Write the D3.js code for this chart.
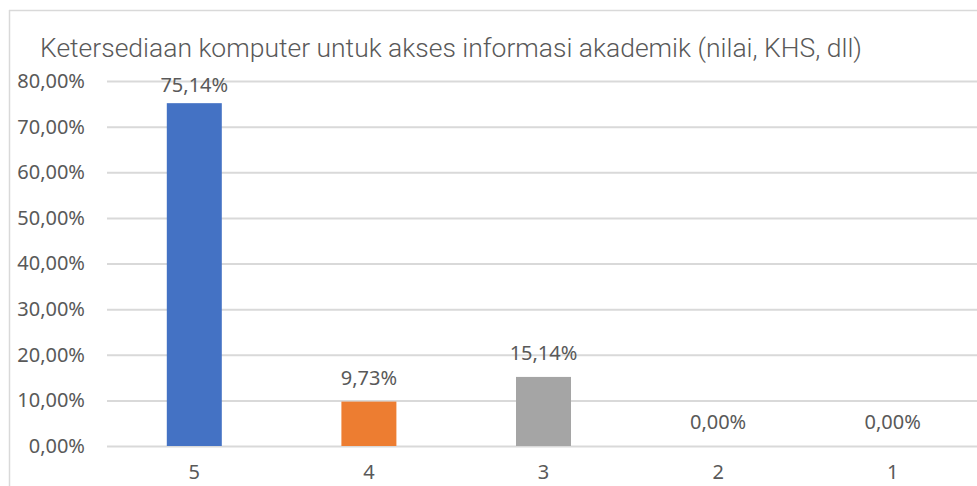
<!DOCTYPE html>
<html>
<head>
<meta charset="utf-8">
<script src="https://cdn.jsdelivr.net/npm/d3@7"></script>
<style>
  html, body { margin: 0; padding: 0; background: #fff; overflow: hidden; }
  svg { display: block; }
</style>
</head>
<body>
<svg id="chart"></svg>
<script>
let title = "Ketersediaan komputer untuk akses informasi akademik (nilai, KHS, dll)";
let categories = ["5", "4", "3", "2", "1"];
let values = [75.14, 9.73, 15.14, 0, 0];
let colors = ["#4472C4", "#ED7D31", "#A5A5A5", "#FFC000", "#5B9BD5"];
let yTicks = [0, 10, 20, 30, 40, 50, 60, 70, 80];

let width = 977;
let height = 486;

let svg = d3.select("#chart")
    .attr("width", width)
    .attr("height", height);

let fmt = (v) => v.toFixed(2).replace(".", ",") + "%";

// chart frame (the picture is a crop, so only left and top edges show)
svg.append("line")
    .attr("x1", 9.5).attr("x2", 9.5)
    .attr("y1", 10).attr("y2", height)
    .attr("stroke", "#d9d9d9").attr("stroke-width", 1.5);
svg.append("line")
    .attr("x1", 9).attr("x2", width)
    .attr("y1", 10.5).attr("y2", 10.5)
    .attr("stroke", "#d9d9d9").attr("stroke-width", 1.5);

svg.append("text")
    .attr("x", 40)
    .attr("y", 57)
    .attr("textLength", 822)
    .attr("lengthAdjust", "spacingAndGlyphs")
    .attr("font-family", "Roboto, 'Noto Sans', sans-serif")
    .attr("font-size", 26)
    .attr("font-weight", 300)
    .attr("fill", "#595959")
    .text(title);

let xScale = d3.scaleBand()
    .domain(categories)
    .range([107, 980])
    .paddingInner(0.685)
    .paddingOuter(0.3425);

let yScale = d3.scaleLinear()
    .domain([0, 80])
    .range([446, 81]);

// gridlines + y labels
let yAxis = d3.axisLeft(yScale)
    .tickValues(yTicks)
    .tickSize(-(980 - 107))
    .tickFormat(fmt)
    .tickPadding(22);

let gy = svg.append("g")
    .attr("transform", "translate(107,0)")
    .call(yAxis);
gy.select(".domain").remove();
gy.selectAll(".tick line")
    .attr("stroke", "#d9d9d9")
    .attr("stroke-width", 2);
gy.selectAll(".tick text")
    .attr("font-family", "'Noto Sans', 'Open Sans', sans-serif")
    .attr("font-size", 20)
    .attr("fill", "#595959");

// bars
svg.selectAll("rect.bar")
    .data(values)
    .enter()
    .append("rect")
    .attr("class", "bar")
    .attr("x", (d, i) => xScale(categories[i]))
    .attr("width", xScale.bandwidth())
    .attr("y", (d) => yScale(d))
    .attr("height", (d) => yScale(0) - yScale(d))
    .attr("fill", (d, i) => colors[i]);

// data labels
svg.selectAll("text.label")
    .data(values)
    .enter()
    .append("text")
    .attr("class", "label")
    .attr("x", (d, i) => xScale(categories[i]) + xScale.bandwidth() / 2)
    .attr("y", (d) => Math.max(yScale(d) - 17, yScale(80) + 11))
    .attr("text-anchor", "middle")
    .attr("font-family", "'Noto Sans', 'Open Sans', sans-serif")
    .attr("font-size", 20)
    .attr("fill", "#595959")
    .text((d) => fmt(d));

// x axis labels
let xAxis = d3.axisBottom(xScale).tickSize(0).tickPadding(19);
let gx = svg.append("g")
    .attr("transform", "translate(0,446)")
    .call(xAxis);
gx.select(".domain").remove();
gx.selectAll(".tick text")
    .attr("font-family", "'Noto Sans', 'Open Sans', sans-serif")
    .attr("font-size", 20)
    .attr("fill", "#595959");
</script>
</body>
</html>
